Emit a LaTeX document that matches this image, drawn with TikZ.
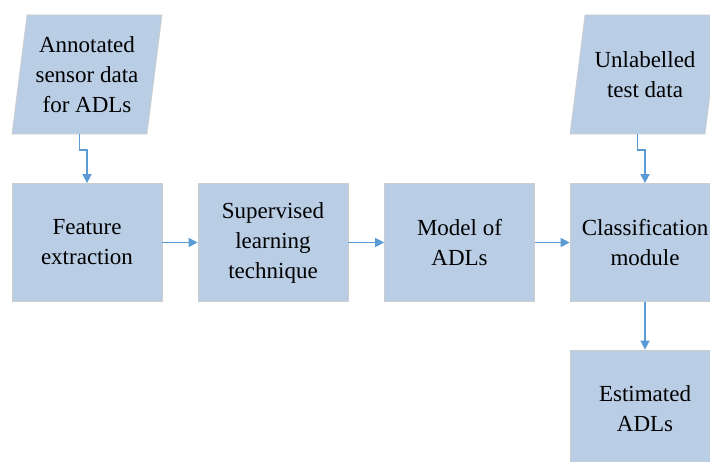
\documentclass[tikz,border=0pt]{standalone}
\usepackage{fontspec}
\setmainfont{Liberation Serif}
\usetikzlibrary{arrows.meta}
\definecolor{boxfill}{RGB}{185,205,229}
\definecolor{boxline}{RGB}{205,205,205}
\definecolor{arrcol}{RGB}{91,155,213}
\tikzset{
  box/.style={rectangle, fill=boxfill, draw=boxline, line width=0.7pt,
    minimum width=150pt, minimum height=118pt, inner sep=0pt, align=center,
    font=\fontsize{23}{30}\selectfont},
  para/.style={fill=boxfill, draw=boxline, line width=0.7pt},
  txt/.style={inner sep=0pt, align=center, font=\fontsize{23}{30}\selectfont},
  arr/.style={draw=arrcol, line width=1.4pt, -{Triangle[length=9pt,width=9pt]}}
}
\begin{document}
\begin{tikzpicture}[x=1pt,y=-1pt]
\useasboundingbox (0,0) rectangle (710,462);
% parallelograms
\path[para] (27,15) -- (162,15) -- (147,134) -- (12,134) -- cycle;
\node[txt] (ann) at (87,74.5) {Annotated\\sensor data\\for ADLs};
\coordinate (annb) at (79.5,134);
\coordinate (annj) at (79.5,150);
\path[para] (585,15) -- (720,15) -- (705,134) -- (570,134) -- cycle;
\node[txt] (unl) at (645,75) {Unlabelled\\test data};
\coordinate (unlb) at (637.5,134);
\coordinate (unlj) at (637.5,150);
% boxes
\node[box] (fe) at (87,242.5) {Feature\\extraction};
\node[box] (sl) at (273,242.5) {Supervised\\learning\\technique};
\node[box] (mo) at (459.5,242.5) {Model of\\ADLs};
\node[box] (cl) at (645,242.5) {Classification\\module};
\node[box] (es) at (645,409) {Estimated\\ADLs};
% connectors
\draw[arr] (annb) -- (annj) -| (fe.north);
\draw[arr] (unlb) -- (unlj) -| (cl.north);
\draw[arr] (fe) -- (sl);
\draw[arr] (sl) -- (mo);
\draw[arr] (mo) -- (cl);
\draw[arr] (cl) -- (es);
\end{tikzpicture}
\end{document}
